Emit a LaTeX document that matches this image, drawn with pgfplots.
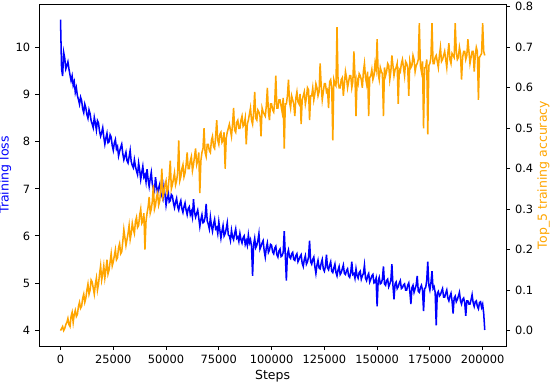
\documentclass[border=0pt]{standalone}
\usepackage{fontspec}
\setmainfont{DejaVu Sans}
\usepackage{pgfplots}
\usepackage{pgfplotstable}
\pgfplotsset{compat=1.18}
\definecolor{mplorange}{RGB}{255,165,0}
\definecolor{mplblue}{RGB}{0,0,255}

% k = training step / 1000
\pgfplotstableread{
k loss acc
0 10.60 0.000
0.5 9.55 0.005
1 9.40 0.010
1.5 9.90 0.000
2 9.78 0.005
2.5 9.55 0.015
3 9.62 0.020
3.5 9.70 0.030
4 9.55 0.015
4.5 9.42 0.010
5 9.30 0.035
5.5 9.40 0.045
6 9.20 0.020
6.5 9.28 0.040
7 9.05 0.050
7.5 9.15 0.035
8 8.98 0.040
8.5 8.90 0.060
9 8.80 0.070
9.5 8.95 0.055
10 8.88 0.060
10.5 8.70 0.080
11 8.62 0.090
11.5 8.80 0.070
12 8.72 0.080
12.5 8.58 0.100
13 8.50 0.115
13.5 8.68 0.090
14 8.60 0.100
14.5 8.45 0.125
15 8.38 0.120
15.5 8.30 0.105
16 8.52 0.090
16.5 8.40 0.115
17 8.25 0.130
17.5 8.45 0.100
18 8.40 0.115
18.5 8.22 0.140
19 8.12 0.160
19.5 8.20 0.125
20 8.30 0.140
20.5 8.10 0.160
21 7.95 0.130
21.5 8.08 0.150
22 8.18 0.175
22.5 7.98 0.140
23 8.00 0.150
23.5 8.15 0.170
24 8.10 0.190
24.5 7.92 0.160
25 7.82 0.170
25.5 7.98 0.185
26 8.05 0.200
26.5 7.85 0.175
27 7.90 0.180
27.5 7.70 0.205
28 7.80 0.215
28.5 7.88 0.190
29 7.95 0.195
29.5 7.75 0.220
30 7.62 0.250
30.5 7.70 0.230
31 7.78 0.210
31.5 7.60 0.225
32 7.55 0.240
32.5 7.68 0.260
33 7.82 0.225
33.5 7.58 0.240
34 7.50 0.265
34.5 7.45 0.250
35 7.62 0.240
35.5 7.48 0.270
36 7.38 0.280
36.5 7.30 0.255
37 7.55 0.260
37.5 7.40 0.285
38 7.20 0.300
38.5 7.35 0.265
39 7.48 0.270
39.5 7.25 0.290
40 7.30 0.200
40.5 7.15 0.270
41 7.42 0.290
41.5 7.20 0.305
42 7.05 0.330
42.5 7.22 0.290
43 7.35 0.300
43.5 7.10 0.320
44 7.00 0.360
44.5 6.95 0.300
45 7.25 0.310
45.5 7.05 0.330
46 6.90 0.340
46.5 7.02 0.310
47 7.10 0.320
47.5 6.92 0.350
48 6.85 0.400
48.5 6.78 0.330
49 7.05 0.340
49.5 6.88 0.360
50 6.65 0.370
50.5 6.80 0.340
51 6.95 0.350
51.5 6.72 0.380
52 6.75 0.420
52.5 6.88 0.350
53 6.85 0.360
53.5 6.70 0.375
54 6.60 0.390
54.5 6.72 0.360
55 6.80 0.370
55.5 6.62 0.390
56 6.55 0.470
56.5 6.68 0.370
57 6.75 0.380
57.5 6.58 0.400
58 6.50 0.410
58.5 6.62 0.380
59 6.70 0.390
59.5 6.55 0.410
60 6.45 0.440
60.5 6.58 0.400
61 6.62 0.400
61.5 6.45 0.420
62 6.52 0.430
62.5 6.40 0.395
63 6.78 0.410
63.5 6.50 0.430
64 6.40 0.450
64.5 6.48 0.410
65 6.55 0.420
65.5 6.38 0.440
66 6.20 0.340
66.5 6.35 0.420
67 6.45 0.440
67.5 6.28 0.450
68 6.30 0.500
68.5 6.40 0.440
69 6.68 0.430
69.5 6.32 0.460
70 6.25 0.460
70.5 6.15 0.445
71 6.40 0.440
71.5 6.22 0.470
72 6.10 0.480
72.5 6.25 0.455
73 6.35 0.450
73.5 6.15 0.480
74 6.18 0.520
74.5 6.05 0.470
75 6.30 0.460
75.5 6.12 0.485
76 5.95 0.490
76.5 6.10 0.465
77 6.22 0.470
77.5 6.00 0.490
78 6.05 0.400
78.5 6.15 0.475
79 6.28 0.490
79.5 6.02 0.500
80 6.00 0.510
80.5 5.90 0.495
81 6.12 0.480
81.5 5.98 0.510
82 5.92 0.550
82.5 6.05 0.495
83 6.15 0.490
83.5 5.95 0.515
84 5.98 0.520
84.5 5.88 0.500
85 6.05 0.500
85.5 5.92 0.520
86 5.85 0.530
86.5 5.96 0.505
87 6.00 0.510
87.5 5.82 0.525
88 5.90 0.460
88.5 5.80 0.510
89 6.02 0.520
89.5 5.85 0.535
90 5.92 0.550
90.5 5.78 0.520
91 5.15 0.510
91.5 5.82 0.540
92 5.95 0.590
92.5 5.75 0.525
93 5.80 0.520
93.5 5.90 0.545
94 6.05 0.540
94.5 5.72 0.530
95 5.78 0.480
95.5 5.85 0.550
96 5.90 0.540
96.5 5.68 0.535
97 5.55 0.530
97.5 5.75 0.555
98 5.85 0.600
98.5 5.65 0.540
99 5.70 0.520
99.5 5.82 0.560
100 5.80 0.560
100.5 5.66 0.545
101 5.62 0.540
101.5 5.74 0.565
102 5.78 0.630
102.5 5.60 0.550
103 5.55 0.550
103.5 5.68 0.570
104 5.72 0.570
104.5 5.56 0.555
105 5.58 0.540
105.5 5.65 0.575
106 6.10 0.450
106.5 5.60 0.560
107 5.05 0.560
107.5 5.62 0.580
108 5.70 0.620
108.5 5.55 0.565
109 5.52 0.550
109.5 5.62 0.580
110 5.65 0.570
110.5 5.50 0.560
111 5.48 0.530
111.5 5.58 0.575
112 5.62 0.590
112.5 5.45 0.565
113 5.50 0.560
113.5 5.56 0.585
114 5.60 0.510
114.5 5.42 0.570
115 5.35 0.580
115.5 5.50 0.590
116 5.58 0.560
116.5 5.40 0.575
117 5.45 0.600
117.5 5.55 0.595
118 5.90 0.520
118.5 5.45 0.580
119 5.40 0.580
119.5 5.50 0.600
120 5.55 0.570
120.5 5.35 0.585
121 5.20 0.610
121.5 5.38 0.600
122 5.48 0.580
122.5 5.32 0.590
123 5.30 0.660
123.5 5.42 0.605
124 5.50 0.570
124.5 5.30 0.590
125 5.25 0.610
125.5 5.35 0.610
126 5.60 0.590
126.5 5.32 0.595
127 5.28 0.550
127.5 5.38 0.615
128 5.45 0.620
128.5 5.25 0.600
129 5.22 0.470
129.5 5.32 0.620
130 5.40 0.610
130.5 5.22 0.605
131 5.15 0.750
131.5 5.28 0.615
132 5.35 0.600
132.5 5.18 0.600
133 5.22 0.620
133.5 5.30 0.625
134 5.38 0.580
134.5 5.20 0.610
135 5.18 0.640
135.5 5.26 0.625
136 5.30 0.600
136.5 5.15 0.615
137 5.12 0.630
137.5 5.22 0.630
138 5.45 0.600
138.5 5.18 0.615
139 5.20 0.690
139.5 5.10 0.630
140 5.30 0.530
140.5 5.15 0.620
141 5.10 0.610
141.5 5.22 0.635
142 5.25 0.630
142.5 5.08 0.620
143 5.15 0.600
143.5 5.20 0.640
144 5.38 0.660
144.5 5.10 0.625
145 5.05 0.610
145.5 5.15 0.640
146 5.20 0.530
146.5 5.02 0.625
147 5.08 0.630
147.5 5.15 0.645
148 5.18 0.620
148.5 5.00 0.630
149 5.02 0.660
149.5 5.10 0.645
150 4.50 0.720
150.5 5.05 0.635
151 5.12 0.620
151.5 4.98 0.650
152 5.00 0.640
152.5 5.08 0.635
153 5.35 0.530
153.5 4.98 0.650
154 4.95 0.630
154.5 5.05 0.640
155 5.08 0.660
155.5 4.92 0.655
156 4.98 0.620
156.5 5.05 0.640
157 5.40 0.680
157.5 4.95 0.655
158 4.65 0.630
158.5 4.98 0.645
159 5.02 0.650
159.5 4.88 0.660
160 4.92 0.560
160.5 5.00 0.645
161 5.05 0.640
161.5 4.88 0.660
162 4.90 0.670
162.5 4.96 0.650
163 4.98 0.630
163.5 4.85 0.665
164 4.85 0.660
164.5 4.95 0.650
165 5.00 0.580
165.5 4.82 0.665
166 4.55 0.650
166.5 4.90 0.655
167 4.95 0.680
167.5 4.80 0.670
168 4.88 0.640
168.5 4.95 0.655
169 5.15 0.660
169.5 4.82 0.670
170 4.80 0.760
170.5 4.90 0.655
171 4.95 0.640
171.5 4.85 0.665
172 4.40 0.500
172.5 4.88 0.650
173 4.90 0.650
173.5 5.05 0.670
174 5.45 0.485
174.5 4.95 0.655
175 4.85 0.660
175.5 5.00 0.675
176 5.25 0.760
176.5 4.88 0.660
177 4.92 0.660
177.5 4.80 0.675
178 4.10 0.680
178.5 4.78 0.665
179 4.82 0.650
179.5 4.72 0.680
180 4.75 0.700
180.5 4.82 0.665
181 4.88 0.670
181.5 4.70 0.680
182 4.70 0.690
182.5 4.78 0.670
183 4.85 0.650
183.5 4.68 0.685
184 4.62 0.710
184.5 4.72 0.670
185 4.78 0.660
185.5 4.62 0.685
186 4.35 0.680
186.5 4.68 0.675
187 4.72 0.760
187.5 4.60 0.690
188 4.65 0.670
188.5 4.72 0.675
189 4.80 0.700
189.5 4.62 0.685
190 4.55 0.620
190.5 4.65 0.675
191 4.68 0.690
191.5 4.58 0.690
192 4.30 0.670
192.5 4.62 0.680
193 4.62 0.720
193.5 4.55 0.690
194 4.55 0.660
194.5 4.64 0.675
195 4.75 0.690
195.5 4.58 0.690
196 4.50 0.640
196.5 4.60 0.680
197 4.62 0.700
197.5 4.50 0.690
198 4.45 0.570
198.5 4.58 0.675
199 4.60 0.680
199.5 4.48 0.685
200 4.55 0.760
200.5 4.35 0.690
201 4.00 0.680
}\runlog

\pgfplotsset{
  twin/.style={
    scale only axis, width=336pt, height=246.2pt,
    at={(0,0)}, anchor=south west,
    xmin=-10050, xmax=211050,
    tick align=outside, major tick length=3pt,
    every tick/.style={black, line width=0.6pt},
    axis line style={line width=0.6pt},
    ticklabel style={font=\fontsize{8.2}{9.8}\selectfont},
    label style={font=\fontsize{9}{10.8}\selectfont},
    /pgf/number format/assume math mode=true,
  }
}

\begin{document}
\begin{tikzpicture}
\begin{axis}[twin,
    ymin=3.66, ymax=10.93,
    ytick={4,5,6,7,8,9,10},
    xtick={0,25000,...,200000},
    scaled x ticks=false,
    xticklabel style={/pgf/number format/.cd, fixed, 1000 sep={}},
    xtick pos=bottom, ytick pos=left,
    xlabel={Steps},
    ylabel={Training loss},
    xlabel style={at={(axis description cs:0.5,-0.07)}, anchor=north, inner sep=0pt},
    ylabel style={at={(axis description cs:-0.0596,0.5)}, anchor=south, inner sep=0pt, color=mplblue},
]
\addplot[mplblue, line width=1.1pt] table[x expr=\thisrow{k}*1000, y=loss] {\runlog};
\end{axis}
\begin{axis}[twin,
    ymin=-0.038, ymax=0.807,
    axis x line=none,
    axis y line*=right,
    ytick={0,0.1,...,0.8},
    yticklabel style={/pgf/number format/.cd, fixed, fixed zerofill, precision=1},
    ylabel={Top\_5 training accuracy},
    ylabel style={at={(axis description cs:1.0665,0.5)}, anchor=north, inner sep=0pt, color=mplorange},
]
\addplot[mplorange, line width=1.1pt] table[x expr=\thisrow{k}*1000, y=acc] {\runlog};
\end{axis}
\pgfresetboundingbox
\path[use as bounding box] (-28.3pt,-27.4pt) rectangle (367.7pt,249.1pt);
\end{tikzpicture}
\end{document}
